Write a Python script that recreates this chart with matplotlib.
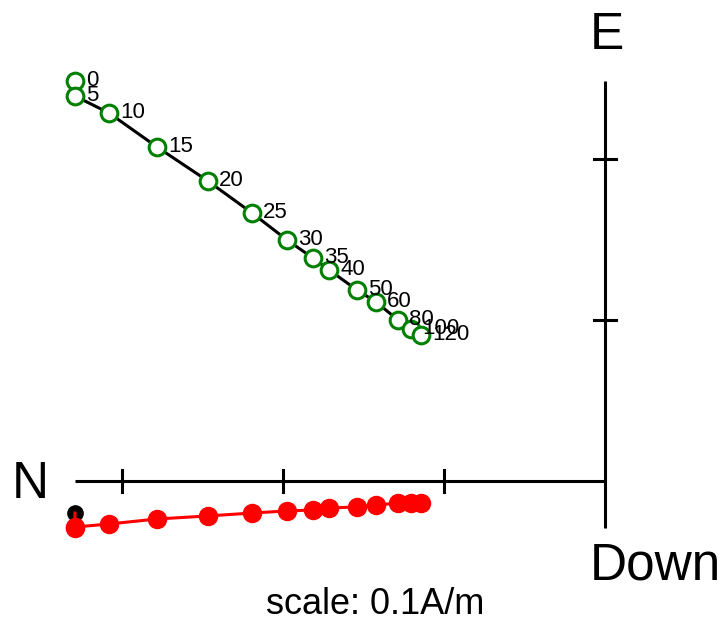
import numpy as np
import matplotlib
matplotlib.use("Agg")
import matplotlib.pyplot as plt

plt.rcParams['font.family'] = ['Liberation Sans', 'DejaVu Sans']

# demag steps and components (A/m)
steps = ['0', '5', '10', '15', '20', '25', '30', '35', '40', '50', '60', '80', '100', '120']
north = np.array([0.3292, 0.3292, 0.3081, 0.2783, 0.2466, 0.2193, 0.1975, 0.1814,
                  0.1714, 0.1540, 0.1422, 0.1286, 0.1205, 0.1143])
east = np.array([0.2484, 0.2391, 0.2286, 0.2075, 0.1863, 0.1665, 0.1497, 0.1385,
                 0.1311, 0.1186, 0.1112, 0.1000, 0.0944, 0.0907])
down = np.array([0.0292, 0.0286, 0.0267, 0.0236, 0.0217, 0.0199, 0.0186, 0.0180,
                 0.0168, 0.0161, 0.0149, 0.0137, 0.0137, 0.0137])
start_n, start_d = 0.3292, 0.0199
tick_step = 0.1

W, H = 727, 625
px = 1610.0  # pixels per A/m
ox, oy = 605, 481

fig = plt.figure(figsize=(W / 100, H / 100), dpi=100)
ax = fig.add_axes([0, 0, 1, 1])
ax.set_xlim(-ox / px, (W - ox) / px)
ax.set_ylim(-(H - oy) / px, oy / px)
ax.axis('off')

# axes of the diagram
xmin = -north.max()
ytop = east.max()
ybot = -down.max()
ax.plot([xmin, 0], [0, 0], color='k', lw=2.2, solid_capstyle='butt')
ax.plot([0, 0], [ybot, ytop], color='k', lw=2.2, solid_capstyle='butt')
tl = 11 / px
for t in np.arange(-tick_step, xmin, -tick_step):
    ax.plot([t, t], [-tl, tl], color='k', lw=2.2)
for t in np.arange(tick_step, ytop, tick_step):
    ax.plot([-tl, tl], [t, t], color='k', lw=2.2)

# horizontal projection (N vs E)
ax.plot(-north, east, color='k', lw=2.2, zorder=2)
ax.plot(-north, east, 'o', mfc='white', mec='green', ms=12, mew=2.2, zorder=3)
for s, n, e in zip(steps, north, east):
    ax.annotate(s, (-n, e), xytext=(8, 0.5), textcoords='offset points',
                fontsize=16, va='center', ha='left', zorder=4)

# vertical projection (N vs Down)
ax.plot(-start_n, -start_d, 'o', color='k', ms=11, zorder=2)
ax.plot(np.r_[-start_n, -north], np.r_[-start_d, -down], color='red', lw=2.2, zorder=3)
ax.plot(-north, -down, 'o', color='red', ms=13, zorder=3)

fig.text(607 / W, 1 - 49 / H, 'E', fontsize=37, ha='center', va='baseline')
fig.text(12 / W, 1 - 498 / H, 'N', fontsize=37, ha='left', va='baseline')
fig.text(590 / W, 1 - 580 / H, 'Down', fontsize=37, ha='left', va='baseline')
fig.text(375 / W, 1 - 614 / H, 'scale: %gA/m' % tick_step, fontsize=26,
         ha='center', va='baseline')

fig.savefig('out.png', dpi=100)
